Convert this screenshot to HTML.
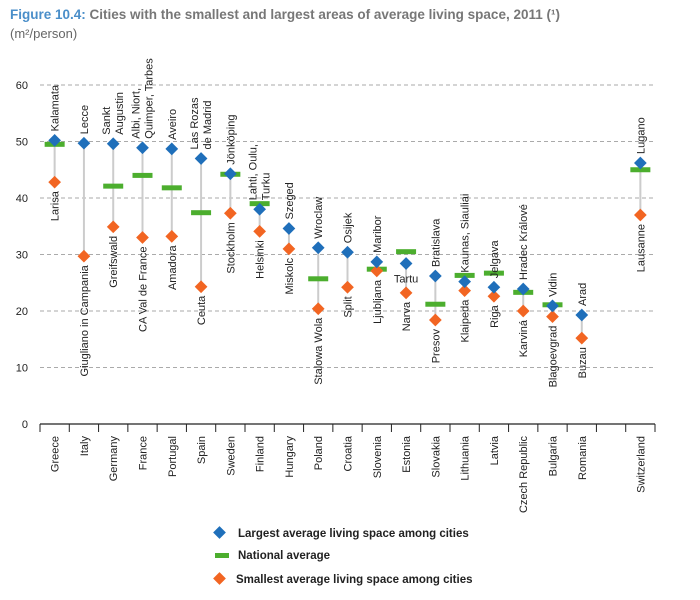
<!DOCTYPE html>
<html><head><meta charset="utf-8"><style>
body{margin:0;background:#fff;}
svg text{font-family:"Liberation Sans",sans-serif;}
</style></head><body>
<svg id="chart" width="700" height="595" xmlns="http://www.w3.org/2000/svg">
<text x="10" y="19" font-size="13.5" font-weight="bold" fill="#777"><tspan fill="#4a8ec9">Figure 10.4:</tspan> Cities with the smallest and largest areas of average living space, 2011 (¹)</text>
<text x="10" y="38" font-size="13" fill="#666">(m²/person)</text>
<g id="grid"></g><g id="marks"></g><g id="axis"></g>
<g>
<rect x="215" y="528" width="9" height="9" fill="#1f6fba" transform="rotate(45 219.5 532.5)"/>
<text x="238" y="537" font-size="11.5" font-weight="bold" fill="#222">Largest average living space among cities</text>
<rect x="215" y="553" width="14" height="5" fill="#4cae2e"/>
<text x="238" y="559" font-size="11.5" font-weight="bold" fill="#222">National average</text>
<rect x="215" y="574" width="9" height="9" fill="#f26522" transform="rotate(45 219.5 578.5)"/>
<text x="236" y="583" font-size="11.5" font-weight="bold" fill="#222">Smallest average living space among cities</text>
</g>
</svg>
<script>
const countries=["Greece","Italy","Germany","France","Portugal","Spain","Sweden","Finland","Hungary","Poland","Croatia","Slovenia","Estonia","Slovakia","Lithuania","Latvia","Czech Republic","Bulgaria","Romania","","Switzerland"];
const maxVals=[50.2,49.7,49.6,48.9,48.7,47.0,44.3,38.0,34.6,31.2,30.4,28.7,28.4,26.2,25.2,24.2,23.9,20.9,19.3,null,46.2];
const avgVals=[49.5,null,42.1,44.0,41.8,37.4,44.2,39.0,null,25.7,null,27.4,30.5,21.2,26.3,26.7,23.3,21.1,null,null,45.0];
const minVals=[42.8,29.7,34.9,33.0,33.2,24.3,37.3,34.1,31.0,20.4,24.2,27.1,23.2,18.4,23.6,22.6,20.0,19.0,15.2,null,37.0];
const maxLabels=["Kalamata","Lecce","Sankt\nAugustin","Albi, Niort,\nQuimper, Tarbes","Aveiro","Las Rozas\nde Madrid","Jönköping","Lahti, Oulu,\nTurku","Szeged","Wroclaw","Osijek","Maribor","Tartu","Bratislava","Kaunas, Siauliai","Jelgava","Hradec Králové","Vidin","Arad","","Lugano"];
const minLabels=["Larisa","Giugliano in Campania","Greifswald","CA Val de France","Amadora","Ceuta","Stockholm","Helsinki","Miskolc","Stalowa Wola","Split","Ljubljana","Narva","Presov","Klaipeda","Riga","Karviná","Blagoevgrad","Buzau","","Lausanne"];
const yTicks=[0,10,20,30,40,50,60];

const NS="http://www.w3.org/2000/svg";
const X0=40,X1=655,Y0=424,PER=5.65;
const step=(X1-X0)/countries.length;
const xs=i=>X0+step*(i+0.5);
const ys=v=>Y0-v*PER;
function mk(tag,attrs,parent,txt){const e=document.createElementNS(NS,tag);for(const k in attrs)e.setAttribute(k,attrs[k]);if(txt!==undefined)e.textContent=txt;parent.appendChild(e);return e;}
const grid=document.getElementById('grid'),marks=document.getElementById('marks'),axis=document.getElementById('axis');
yTicks.forEach(t=>{
  const lb=mk('text',{x:28,y:ys(t)+4,'font-size':11,'text-anchor':'end',fill:'#222'},grid,String(t));
  
  
  if(t>0){const g=mk('line',{x1:X0,x2:X1,y1:ys(t),y2:ys(t),stroke:'#aaa','stroke-dasharray':'4,3','stroke-width':1},grid);
  
  }
});
const ax=mk('line',{x1:X0,x2:X1,y1:Y0,y2:Y0,stroke:'#222','stroke-width':1.2},axis);


for(let i=0;i<=countries.length;i++){const x=X0+step*i;const tk=mk('line',{x1:x,x2:x,y1:Y0,y2:Y0+8,stroke:'#222','stroke-width':1},axis);
  
  }
function rotLabel(text,x,y,anchor,name){
  const lines=text.split("\n");
  const t=mk('text',{'font-size':11,fill:'#222','text-anchor':anchor,transform:`translate(${x},${y}) rotate(-90)`},marks);
  
  
  const offs=lines.length===1?[4]:[-3,10];
  lines.forEach((l,k)=>{mk('tspan',{x:0,y:offs[k]},t,l);});
  return t;
}
countries.forEach((c,i)=>{
  const x=xs(i);
  if(c){const cl=mk('text',{'font-size':11,fill:'#222','text-anchor':'end',transform:`translate(${x+4},${Y0+12}) rotate(-90)`},axis,c);
  
  }
  if(maxVals[i]==null)return;
  const vl=mk('line',{x1:x,x2:x,y1:ys(maxVals[i]),y2:ys(minVals[i]),stroke:'#ccc','stroke-width':2},marks);
  
  
  if(avgVals[i]!=null){const a=mk('rect',{x:x-10,y:ys(avgVals[i])-2.5,width:20,height:5,fill:'#4cae2e'},marks);
    
    }
  const mn=mk('rect',{x:x-4.5,y:ys(minVals[i])-4.5,width:9,height:9,fill:'#f26522',transform:`rotate(45 ${x} ${ys(minVals[i])})`},marks);
  
  
  const mx=mk('rect',{x:x-4.5,y:ys(maxVals[i])-4.5,width:9,height:9,fill:'#1f6fba',transform:`rotate(45 ${x} ${ys(maxVals[i])})`},marks);
  
  
  if(maxLabels[i]==="Tartu"){
    const tt=mk('text',{x:x,y:ys(maxVals[i])+19,'font-size':11,fill:'#222','text-anchor':'middle'},marks,"Tartu");
    
    
  } else rotLabel(maxLabels[i],x,ys(maxVals[i])-9,'start','largest-city-label');
  rotLabel(minLabels[i],x,ys(minVals[i])+9,'end','smallest-city-label');
});
</script>
</body></html>
